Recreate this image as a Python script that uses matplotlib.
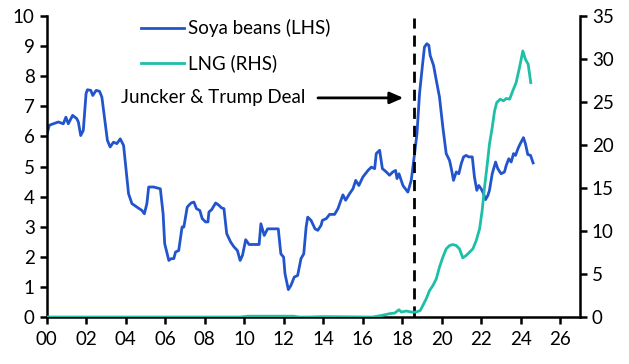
import matplotlib
matplotlib.use("Agg")
import matplotlib.pyplot as plt
from matplotlib.ticker import FuncFormatter, MultipleLocator

plt.rcParams["font.family"] = ["Lato", "DejaVu Sans"]

# years since 2000
soya_years = [0.0, 0.14, 0.34, 0.6, 0.85, 0.98, 1.1, 1.32, 1.53, 1.61, 1.73, 1.86,
              2.0, 2.07, 2.24, 2.34, 2.51, 2.68, 2.8, 2.97, 3.08, 3.22, 3.39, 3.56,
              3.73, 3.9, 4.03, 4.15, 4.32, 4.58, 4.83, 4.95, 5.08, 5.17, 5.42, 5.76,
              5.9, 5.98, 6.19, 6.31, 6.44, 6.53, 6.69, 6.86, 6.95, 7.12, 7.2, 7.32,
              7.46, 7.59, 7.76, 7.88, 8.05, 8.17, 8.22, 8.36, 8.56, 8.73, 8.85, 8.98,
              9.12, 9.32, 9.49, 9.66, 9.8, 9.92, 10.08, 10.25, 10.51, 10.76, 10.85,
              11.02, 11.19, 11.44, 11.73, 11.86, 12.0, 12.07, 12.24, 12.37, 12.54,
              12.71, 12.88, 13.02, 13.14, 13.22, 13.39, 13.59, 13.73, 13.9, 13.96,
              14.16, 14.33, 14.58, 14.75, 15.0, 15.14, 15.34, 15.51, 15.65, 15.81,
              16.01, 16.27, 16.44, 16.61, 16.69, 16.86, 17.0, 17.2, 17.36, 17.53,
              17.67, 17.74, 17.84, 18.04, 18.29, 18.46, 18.63, 18.75, 18.88, 19.02,
              19.13, 19.25, 19.35, 19.42, 19.59, 19.73, 19.89, 20.06, 20.23, 20.4,
              20.49, 20.6, 20.74, 20.87, 20.99, 21.11, 21.24, 21.37, 21.55, 21.66,
              21.78, 21.88, 22.0, 22.12, 22.22, 22.34, 22.42, 22.56, 22.73, 22.84,
              23.01, 23.18, 23.27, 23.4, 23.52, 23.64, 23.74, 23.86, 23.98, 24.14,
              24.24, 24.36, 24.5, 24.63]
soya_values = [6.03, 6.37, 6.42, 6.48, 6.42, 6.64, 6.42, 6.7, 6.59, 6.48, 6.03, 6.2,
               7.42, 7.55, 7.53, 7.36, 7.53, 7.5, 7.31, 6.42, 5.87, 5.65, 5.81, 5.76,
               5.92, 5.7, 4.87, 4.1, 3.77, 3.65, 3.54, 3.43, 3.77, 4.32, 4.32, 4.26,
               3.43, 2.44, 1.88, 1.94, 1.94, 2.16, 2.21, 2.99, 2.99, 3.65, 3.71, 3.79,
               3.82, 3.6, 3.54, 3.27, 3.16, 3.16, 3.49, 3.57, 3.79, 3.71, 3.63, 3.6,
               2.77, 2.49, 2.33, 2.21, 1.88, 2.05, 2.57, 2.41, 2.41, 2.41, 3.1,
               2.71, 2.93, 2.93, 2.93, 2.1, 1.99, 1.44, 0.91, 1.05, 1.33,
               1.38, 1.94, 2.1, 2.99, 3.32, 3.21, 2.93, 2.88, 3.05, 3.21,
               3.27, 3.41, 3.41, 3.6, 4.06, 3.88, 4.1, 4.26, 4.54, 4.37,
               4.65, 4.87, 4.98, 4.93, 5.43, 5.54, 4.93, 4.82, 4.71, 4.82,
               4.87, 4.6, 4.76, 4.37, 4.15, 4.54, 5.43, 6.09, 7.42, 8.31,
               8.97, 9.08, 9.03, 8.69, 8.36, 7.86, 7.31, 6.31, 5.43, 5.2,
               4.93, 4.54, 4.82, 4.76, 5.09, 5.32, 5.37, 5.32, 5.32, 4.65,
               4.21, 4.37, 4.26, 4.1, 3.9, 4.04, 4.21, 4.76, 5.15, 4.93,
               4.76, 4.82, 5.04, 5.26, 5.15, 5.43, 5.37, 5.59, 5.76, 5.96,
               5.76, 5.4, 5.37, 5.12]

lng_years = [0.0, 9.8, 10.2, 12.5, 12.8, 13.3, 14.0, 16.5, 16.97, 17.36, 17.62, 17.84,
             17.96, 18.21, 18.46, 18.72, 18.92, 19.05, 19.22, 19.39, 19.56, 19.73,
             19.89, 20.06, 20.23, 20.4, 20.57, 20.74, 20.9, 21.07, 21.24, 21.41,
             21.58, 21.75, 21.92, 22.05, 22.17, 22.29, 22.42, 22.56, 22.68, 22.79,
             22.96, 23.13, 23.27, 23.44, 23.6, 23.77, 23.94, 24.11, 24.24, 24.38, 24.51]
lng_values = [0.0, 0.0, 0.1, 0.1, 0.0, 0.0, 0.05, 0.0, 0.19, 0.39, 0.46, 0.85,
              0.58, 0.7, 0.58, 0.58, 0.77, 1.35, 2.13, 3.09, 3.67, 4.45,
              5.8, 6.96, 7.93, 8.31, 8.43, 8.31, 7.93, 6.88, 7.15, 7.54,
              7.93, 8.89, 10.25, 12.37, 15.08, 17.4, 20.1, 22.04, 23.98, 24.94,
              25.33, 25.14, 25.41, 25.33, 26.3, 27.26, 29.0, 30.94, 29.97, 29.39, 27.26]

DEAL_YEAR = 18.6
SOYA_COLOR = "#2255CC"
LNG_COLOR = "#1DBFA6"
FS = 13.5

fig = plt.figure(figsize=(6.29, 3.64), dpi=100)
ax = fig.add_axes([0.074, 0.129, 0.848, 0.827])
ax2 = ax.twinx()

ax.plot(soya_years, soya_values, color=SOYA_COLOR, lw=2.0, label="Soya beans (LHS)")
ax2.plot(lng_years, lng_values, color=LNG_COLOR, lw=2.0, label="LNG (RHS)")

ax.plot([DEAL_YEAR, DEAL_YEAR], [0, 9.95], color="black", lw=2.0, ls=(0, (4, 2.5)))
ax.annotate("", xy=(18.2, 7.28), xytext=(13.6, 7.28),
            arrowprops=dict(arrowstyle="-|>,head_length=0.8,head_width=0.35",
                            color="black", lw=2.0))
ax.text(13.1, 7.28, "Juncker & Trump Deal", ha="right", va="center", fontsize=FS)

ax.set_xlim(0, 27)
ax.set_ylim(0, 10)
ax2.set_ylim(0, 35)
ax.set_xticks(list(range(0, 27, 2)))
ax.xaxis.set_major_formatter(FuncFormatter(lambda v, p: f"{int(v):02d}"))
ax.yaxis.set_major_locator(MultipleLocator(1))
ax2.yaxis.set_major_locator(MultipleLocator(5))

for a in (ax, ax2):
    a.spines["top"].set_visible(False)
    for s in ("left", "right", "bottom"):
        a.spines[s].set_linewidth(1.8)
    a.tick_params(width=1.8, length=5, labelsize=FS, direction="out")
ax.spines["right"].set_visible(False)
ax2.spines["left"].set_visible(False)
ax2.spines["bottom"].set_visible(False)
ax.tick_params(axis="x", pad=5)

h1, l1 = ax.get_legend_handles_labels()
h2, l2 = ax2.get_legend_handles_labels()
ax.legend(h1 + h2, l1 + l2, loc="upper left", bbox_to_anchor=(0.145, 1.045),
          frameon=False, fontsize=FS, handlelength=2.3, handletextpad=0.2,
          labelspacing=0.9)

fig.savefig("out.png", dpi=100)
